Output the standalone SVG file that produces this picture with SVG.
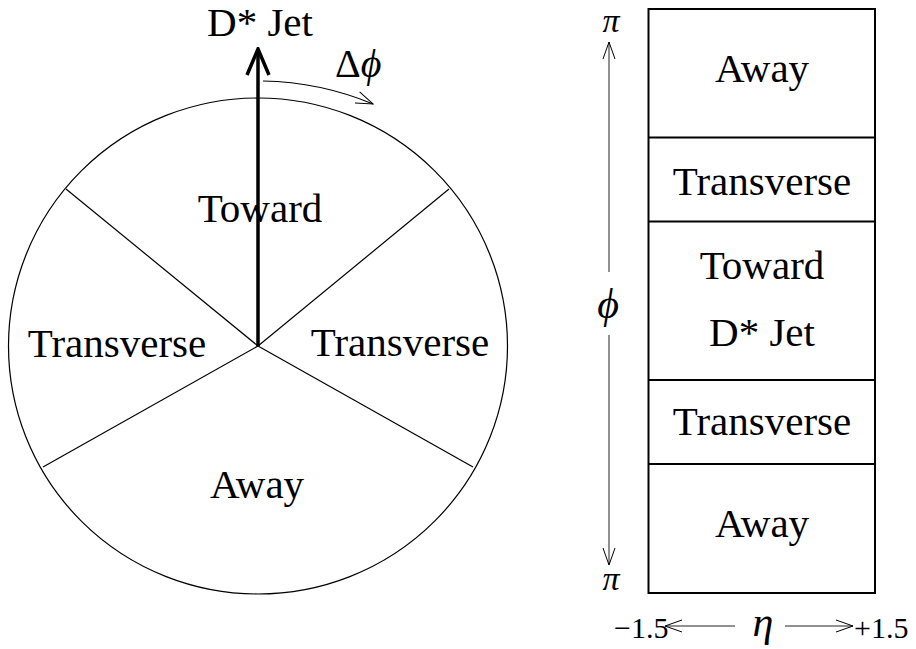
<svg xmlns="http://www.w3.org/2000/svg" width="916" height="649" viewBox="0 0 916 649">
<style>
text{font-family:"Liberation Serif","Times New Roman",serif;fill:#000}
.lbl{font-size:41px;text-anchor:middle}
.math{font-style:italic}
.thin{stroke:#000;stroke-width:1.2;fill:none}
.ax{stroke:#222;stroke-width:1;fill:none}
</style>
<defs>
<marker id="open" viewBox="0 0 20 14" refX="19" refY="7" markerWidth="20" markerHeight="14" markerUnits="userSpaceOnUse" orient="auto">
<path d="M2,1 L19,7 L2,13" fill="none" stroke="#000" stroke-width="1"/>
</marker>
<marker id="thick" viewBox="0 0 30 26" refX="28" refY="13" markerWidth="30" markerHeight="26" markerUnits="userSpaceOnUse" orient="auto">
<path d="M2,2 L28,13 L2,24" fill="none" stroke="#000" stroke-width="3.5"/>
</marker>
</defs>
<g id="circle-diagram">
<ellipse cx="258" cy="346" rx="249.5" ry="248" class="thin"/>
<g id="connectors">
<line x1="258" y1="346" x2="66" y2="189" class="thin"/>
<line x1="258" y1="346" x2="449" y2="189" class="thin"/>
<line x1="258" y1="346" x2="43" y2="467" class="thin"/>
<line x1="258" y1="346" x2="473" y2="467" class="thin"/>
<line x1="258" y1="346" x2="258" y2="49" stroke="#000" stroke-width="3.5" marker-end="url(#thick)"/>
<path d="M263,81 A300,300 0 0 1 373,104" class="thin" marker-end="url(#open)"/>
</g>
<g id="jet-label"><text class="lbl" x="260" y="36">D* Jet</text></g>
<g id="dphi-label"><text x="335" y="77" font-size="40">Δ<tspan class="math">ϕ</tspan></text></g>
<g id="toward"><text class="lbl" x="260" y="222">Toward</text></g>
<g id="transverse-left"><text class="lbl" x="117" y="357">Transverse</text></g>
<g id="transverse-right"><text class="lbl" x="400" y="356">Transverse</text></g>
<g id="away"><text class="lbl" x="257" y="498">Away</text></g>
</g>
<g id="box-diagram">
<rect x="648.5" y="9" width="226.5" height="584" fill="none" stroke="#000" stroke-width="2"/>
<line x1="648.5" y1="137.5" x2="875" y2="137.5" stroke="#000" stroke-width="2"/>
<line x1="648.5" y1="221.5" x2="875" y2="221.5" stroke="#000" stroke-width="2"/>
<line x1="648.5" y1="380" x2="875" y2="380" stroke="#000" stroke-width="2"/>
<line x1="648.5" y1="464" x2="875" y2="464" stroke="#000" stroke-width="2"/>
<g id="box-away-top"><text class="lbl" x="762" y="82">Away</text></g>
<g id="box-transverse-top"><text class="lbl" x="762" y="195">Transverse</text></g>
<g id="box-toward"><text class="lbl" x="762" y="279">Toward</text><text class="lbl" x="762" y="346">D* Jet</text></g>
<g id="box-transverse-bottom"><text class="lbl" x="762" y="435">Transverse</text></g>
<g id="box-away-bottom"><text class="lbl" x="762" y="537">Away</text></g>
</g>
<g id="axes">
<line x1="609" y1="272" x2="609" y2="42" class="ax" marker-end="url(#open)"/>
<line x1="609" y1="335" x2="609" y2="565" class="ax" marker-end="url(#open)"/>
<text class="math" x="611" y="32" font-size="34" text-anchor="middle">π</text>
<text class="math" x="611" y="590" font-size="34" text-anchor="middle">π</text>
<text class="math" x="608" y="318" font-size="42" text-anchor="middle">ϕ</text>
<line x1="735" y1="626" x2="665" y2="626" class="ax" marker-end="url(#open)"/>
<line x1="785" y1="626" x2="853" y2="626" class="ax" marker-end="url(#open)"/>
<text x="614" y="638" font-size="30">−1.5</text>
<text class="math" x="763" y="636" font-size="42" text-anchor="middle">η</text>
<text x="854" y="638" font-size="30">+1.5</text>
</g>
</svg>
